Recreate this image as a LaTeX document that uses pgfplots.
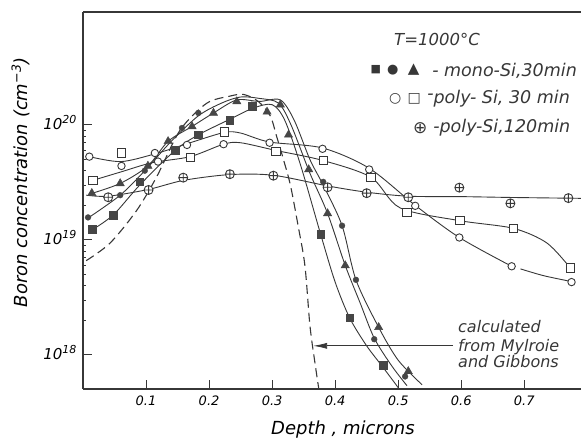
\documentclass[border=0pt]{standalone}
\usepackage{fontspec}
\setmainfont{DejaVu Sans}
\usepackage{pgfplots}
\pgfplotsset{compat=1.18}
\usetikzlibrary{arrows.meta}
\newcommand{\fs}[1]{\fontsize{#1}{#1}\selectfont}
\definecolor{ink}{RGB}{55,55,55}
\definecolor{markfill}{RGB}{70,70,70}
\begin{document}
\begin{tikzpicture}
\begin{axis}[
  at={(83pt,49pt)}, anchor=south west,
  width=498pt, height=377pt, scale only axis,
  xmin=0, xmax=0.79,
  ymode=log, ymin=5.06e17, ymax=9.6e20,
  axis x line=box, axis y line=left,
  axis line style={-, line width=1.1pt, draw=ink},
  xtick={0.1,0.2,0.3,0.4,0.5,0.6,0.7},
  xticklabels={0.1,0.2,0.3,0.4,0.5,0.6,0.7},
  ytick={1e18,1e19,1e20},
  yticklabels={10\raisebox{6pt}{\fs{11}18},10\raisebox{6pt}{\fs{11}19},10\raisebox{6pt}{\fs{11}20}},
  tick pos=left,
  tick align=inside, major tick length=9pt,
  minor tick num=0,
  every tick/.style={line width=0.9pt, draw=ink},
  x tick label style={font=\fs{13}\itshape, yshift=-3pt},
  y tick label style={font=\fs{15}\itshape, anchor=base east, yshift=-5pt, xshift=-3pt},
  xlabel={Depth , microns},
  xlabel style={at={(rel axis cs:0.522,-0.122)}, anchor=base, font=\fs{18}\itshape},
  ylabel={Boron concentration (cm\textsuperscript{−3})},
  ylabel style={at={(rel axis cs:-0.1124,0.548)}, anchor=base, rotate=0, font=\fs{18}\itshape},
  clip mode=individual,
  curve/.style={smooth, line width=0.9pt, draw=ink, mark=none},
  fmark/.style={only marks, draw=markfill, fill=markfill},
  omark/.style={only marks, draw=ink, fill=white, line width=0.9pt},
]
% calculated profile (Mylroie and Gibbons)
\addplot[smooth, line width=1.1pt, draw=ink, dash pattern=on 9pt off 5pt] coordinates {
 (0.005,6.6e18) (0.043,9.4e18) (0.085,1.8e19) (0.117,3.55e19) (0.154,9.0e19)
 (0.196,1.54e20) (0.233,1.78e20) (0.255,1.84e20) (0.278,1.6e20) (0.297,1.2e20)
 (0.307,8.0e19) (0.318,5.0e19) (0.329,3.0e19) (0.341,1.35e19) (0.352,6.0e18)
 (0.360,1.8e18) (0.368,8.5e17) (0.374,5.1e17)};
% mono-Si, 30 min: three fitted curves
\addplot[curve] coordinates {
 (0.012,1.2e19) (0.048,1.65e19) (0.09,3.0e19) (0.146,6.0e19) (0.183,8.2e19)
 (0.233,1.12e20) (0.27,1.4e20) (0.30,1.5e20) (0.32,1.1e20) (0.345,4.5e19)
 (0.377,1.12e19) (0.40,4.3e18) (0.423,2.1e18) (0.45,1.2e18) (0.476,7.8e17) (0.50,5.2e17)};
\addplot[curve] coordinates {
 (0.008,1.55e19) (0.059,2.45e19) (0.098,4.0e19) (0.14,7.2e19) (0.183,1.2e20)
 (0.22,1.55e20) (0.25,1.75e20) (0.28,1.7e20) (0.31,1.55e20) (0.33,1.0e20)
 (0.36,3.8e19) (0.388,1.7e19) (0.416,6.0e18) (0.44,2.8e18) (0.462,1.4e18)
 (0.49,8.0e17) (0.514,5.4e17)};
\addplot[curve] coordinates {
 (0.010,2.5e19) (0.059,3.1e19) (0.103,4.4e19) (0.135,7.2e19) (0.173,9.7e19)
 (0.207,1.27e20) (0.244,1.65e20) (0.28,1.6e20) (0.313,1.65e20) (0.335,1.1e20)
 (0.36,5.0e19) (0.381,3.0e19) (0.411,1.33e19) (0.433,4.5e18) (0.469,1.74e18)
 (0.50,9.0e17) (0.538,5.5e17)};
% poly-Si, 30 min: two fitted curves
\addplot[curve] coordinates {
 (0.010,5.3e19) (0.06,4.8e19) (0.114,5.6e19) (0.17,7.0e19) (0.224,8.6e19)
 (0.25,8.5e19) (0.296,7.1e19) (0.380,6.3e19) (0.454,4.2e19) (0.527,2.0e19)
 (0.597,1.05e19) (0.680,5.9e18)};
\addplot[curve] coordinates {(0.694,5.6e18) (0.73,4.9e18) (0.770,4.4e18)};
\addplot[curve] coordinates {
 (0.016,3.3e19) (0.06,3.9e19) (0.11,4.7e19) (0.17,5.3e19) (0.223,6.8e19)
 (0.25,7.0e19) (0.306,6.0e19) (0.381,4.9e19) (0.457,3.5e19) (0.503,1.9e19)
 (0.598,1.47e19) (0.683,1.26e19) (0.736,9.4e18) (0.773,5.7e18)};
% poly-Si, 120 min
\addplot[curve] coordinates {
 (0.005,2.45e19) (0.04,2.4e19) (0.104,2.75e19) (0.16,3.3e19) (0.233,3.7e19)
 (0.302,3.65e19) (0.388,2.95e19) (0.45,2.6e19) (0.516,2.4e19) (0.6,2.38e19)
 (0.68,2.34e19) (0.79,2.3e19)};
% measured points
\addplot[fmark, mark=square*, mark size=3.8pt] coordinates {
 (0.015,1.24e19) (0.048,1.65e19) (0.090,3.2e19) (0.146,6.0e19) (0.183,8.2e19)
 (0.233,1.10e20) (0.268,1.45e20) (0.377,1.12e19) (0.423,2.1e18) (0.476,8.1e17)};
\addplot[fmark, mark=*, mark size=2.9pt] coordinates {
 (0.008,1.57e19) (0.059,2.45e19) (0.098,4.0e19) (0.157,9.4e19) (0.183,1.27e20)
 (0.268,1.5e20) (0.381,3.2e19) (0.411,1.33e19) (0.433,4.5e18) (0.462,1.37e18) (0.511,6.5e17)};
\addplot[fmark, mark=triangle*, mark size=4.8pt] coordinates {
 (0.014,2.55e19) (0.059,3.1e19) (0.103,4.4e19) (0.135,7.2e19) (0.173,9.7e19)
 (0.207,1.27e20) (0.244,1.6e20) (0.292,1.3e20) (0.313,1.5e20) (0.326,8.2e19)
 (0.358,4.1e19) (0.388,1.7e19) (0.416,6.0e18) (0.469,1.74e18) (0.516,7.2e17)};
\addplot[omark, mark=*, mark size=3.7pt] coordinates {
 (0.010,5.3e19) (0.061,4.4e19) (0.114,5.7e19) (0.119,4.8e19) (0.165,6.7e19)
 (0.223,6.8e19) (0.296,7.0e19) (0.380,6.2e19) (0.454,4.1e19) (0.527,1.98e19)
 (0.597,1.05e19) (0.680,5.9e18) (0.775,4.3e18)};
\addplot[omark, mark=square*, mark size=4.2pt] coordinates {
 (0.016,3.3e19) (0.061,5.7e19) (0.170,5.2e19) (0.224,8.7e19) (0.306,5.9e19)
 (0.381,4.9e19) (0.457,3.5e19) (0.514,1.74e19) (0.598,1.47e19) (0.683,1.26e19) (0.773,5.7e18)};
\addplot[omark, mark=oplus*, mark size=4.5pt] coordinates {
 (0.040,2.35e19) (0.104,2.72e19) (0.159,3.48e19) (0.233,3.73e19) (0.302,3.62e19)
 (0.388,2.87e19) (0.450,2.55e19) (0.516,2.35e19) (0.597,2.85e19) (0.678,2.08e19) (0.770,2.31e19)};
% arrow to calculated curve
\draw[line width=0.8pt, ink, -{Latex[length=14pt,width=6pt]}] (axis cs:0.587,1.2e18) -- (axis cs:0.365,1.2e18);
% annotations
\node[font=\fs{16.5}\itshape, anchor=base, text=ink] at (rel axis cs:0.711,0.912) {T=1000°C};
\node[font=\fs{11}, text=ink] at (rel axis cs:0.588,0.846) {■};
\node[font=\fs{13}, text=ink] at (rel axis cs:0.622,0.846) {●};
\node[font=\fs{15}, text=ink] at (rel axis cs:0.664,0.846) {▲};
\node[font=\fs{17.5}\itshape, anchor=base west, inner sep=0pt, text=ink] at (rel axis cs:0.701,0.830) {- mono-Si,30min};
\node[font=\fs{14}, text=ink] at (rel axis cs:0.627,0.769) {○};
\node[font=\fs{14}, text=ink] at (rel axis cs:0.665,0.769) {□};
\node[font=\fs{17.5}\itshape, anchor=base west, inner sep=0pt, text=ink] at (rel axis cs:0.691,0.756) {\raisebox{4pt}{-}poly- Si, 30 min};
\node[font=\fs{17}, text=ink] at (rel axis cs:0.677,0.692) {⊕};
\node[font=\fs{17.5}\itshape, anchor=base west, inner sep=0pt, text=ink] at (rel axis cs:0.703,0.679) {-poly-Si,120min};
\node[font=\fs{16}\itshape, anchor=base west, inner sep=0pt, text=ink] at (rel axis cs:0.753,0.1485) {calculated};
\node[font=\fs{16}\itshape, anchor=base west, inner sep=0pt, text=ink] at (rel axis cs:0.753,0.1000) {from Mylroie};
\node[font=\fs{16}\itshape, anchor=base west, inner sep=0pt, text=ink] at (rel axis cs:0.753,0.0560) {and Gibbons};
\end{axis}
\pgfresetboundingbox
\path[use as bounding box] (0,0) rectangle (581pt,438pt);
\end{tikzpicture}
\end{document}
